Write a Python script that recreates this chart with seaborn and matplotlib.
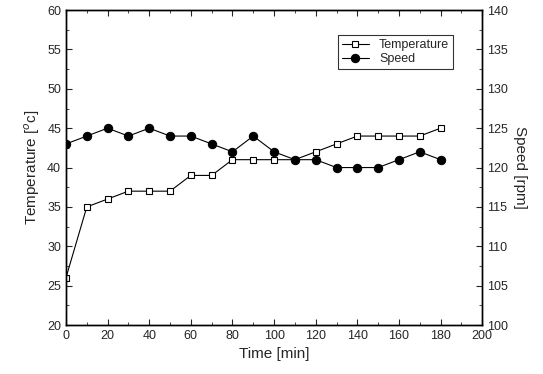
import seaborn as sns
import matplotlib.pyplot as plt
import pandas as pd
from matplotlib.ticker import MultipleLocator

sns.set_style('ticks')
plt.rcParams['font.family'] = ['Liberation Sans', 'DejaVu Sans']

# data
time_min = [0, 10, 20, 30, 40, 50, 60, 70, 80, 90, 100, 110, 120, 130, 140, 150, 160, 170, 180]
temperature = [26, 35, 36, 37, 37, 37, 39, 39, 41, 41, 41, 41, 42, 43, 44, 44, 44, 44, 45]
speed = [123, 124, 125, 124, 125, 124, 124, 123, 122, 124, 122, 121, 121, 120, 120, 120, 121, 122, 121]

df = pd.DataFrame({'time': time_min, 'temp': temperature, 'speed': speed})

fig = plt.figure(figsize=(5.43, 3.74), dpi=100)
ax = fig.add_axes([0.1215, 0.131, 0.7665, 0.842])
ax2 = ax.twinx()

sns.lineplot(data=df, x='time', y='temp', ax=ax, color='black', lw=0.8,
             marker='s', markersize=5, markerfacecolor='white',
             markeredgecolor='black', markeredgewidth=0.8, label='Temperature', legend=False)
sns.lineplot(data=df, x='time', y='speed', ax=ax2, color='black', lw=0.8,
             marker='o', markersize=6, markerfacecolor='black',
             markeredgecolor='black', label='Speed', legend=False)

ax.set_xlim(0, 200)
ax.set_ylim(20, 60)
ax2.set_ylim(100, 140)
ax.xaxis.set_major_locator(MultipleLocator(20))
ax.xaxis.set_minor_locator(MultipleLocator(10))
ax.yaxis.set_major_locator(MultipleLocator(5))
ax.yaxis.set_minor_locator(MultipleLocator(2.5))
ax2.yaxis.set_major_locator(MultipleLocator(5))
ax2.yaxis.set_minor_locator(MultipleLocator(2.5))

ax.tick_params(which='both', direction='in', top=True, labelsize=9)
ax.tick_params(which='major', length=4)
ax.tick_params(which='minor', length=2)
ax2.tick_params(which='both', direction='in', labelsize=9)
ax2.tick_params(which='major', length=4)
ax2.tick_params(which='minor', length=2)

for a in (ax, ax2):
    for s in a.spines.values():
        s.set_linewidth(1.0)
        s.set_color('black')

ax.set_xlabel('Time [min]', fontsize=11)
ax.set_ylabel('Temperature [$^o$c]', fontsize=11)
ax2.set_ylabel('Speed [rpm]', fontsize=11, rotation=270, labelpad=14)

h1, l1 = ax.get_legend_handles_labels()
h2, l2 = ax2.get_legend_handles_labels()
leg = ax2.legend(h1 + h2, l1 + l2, loc='upper right', bbox_to_anchor=(0.945, 0.94),
                 fontsize=9, frameon=True, fancybox=False, edgecolor='black',
                 handlelength=2.2, borderpad=0.3, labelspacing=0.2)
leg.get_frame().set_linewidth(0.8)

fig.savefig('out.png', dpi=100)
